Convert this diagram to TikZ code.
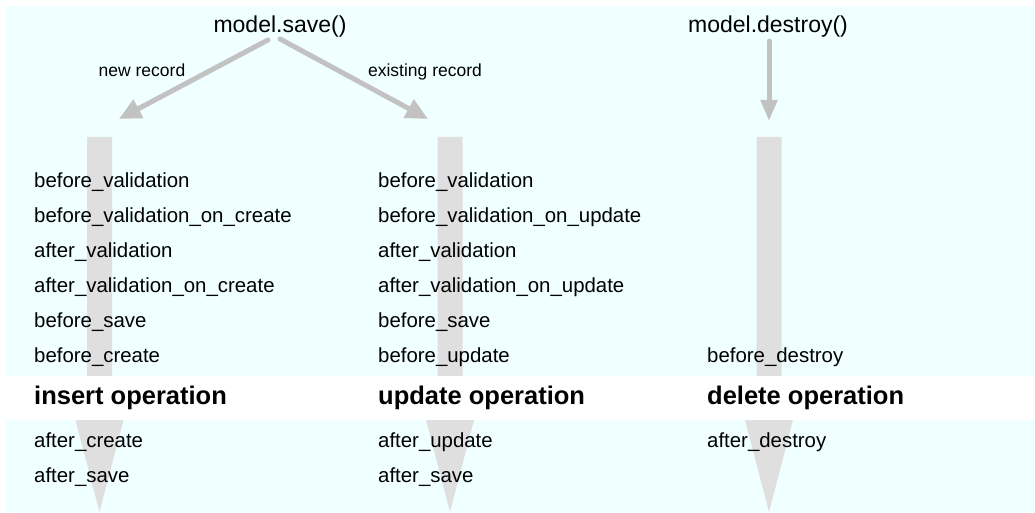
\documentclass[tikz,border=0pt]{standalone}
\usepackage{fontspec}
\setmainfont{Liberation Sans}
\usetikzlibrary{arrows.meta,positioning,calc}
\definecolor{azurebg}{RGB}{240,255,255}
\definecolor{flowgrey}{RGB}{223,223,223}
\definecolor{arrowgrey}{RGB}{194,194,194}

\begin{document}
\begin{tikzpicture}[x=1pt, y=-1pt,
    title/.style={inner sep=0pt, anchor=base, font=\fontsize{23}{27}\selectfont},
    branch/.style={inner sep=0pt, anchor=base, font=\fontsize{17.5}{21}\selectfont},
    hook/.style={inner sep=0pt, anchor=base west, font=\fontsize{20.4}{24}\selectfont},
    operation/.style={inner sep=0pt, anchor=base west, font=\fontsize{25.5}{30}\selectfont\bfseries},
    call/.style={draw=arrowgrey, line width=5pt, line cap=round, -{Triangle[length=22pt, width=20pt]}}]

    \useasboundingbox (0,0) rectangle (1035,513);
    \fill[azurebg] (6,6) rectangle (1035,513);

    % flow bars
    \foreach \c in {99.5,450,769}
        \fill[flowgrey] (\c-12.5,137) -- (\c+12.5,137) -- (\c+12.5,420) -- (\c+24,420)
            -- (\c,512) -- (\c-24,420) -- (\c-12.5,420) -- cycle;

    % operation band
    \fill[white] (0,376) rectangle (1035,420);

    \node[title] (save) at (280,33) {model.save()};
    \node[title] (destroy) at (768,33) {model.destroy()};

    \coordinate (newrec) at (119,119);
    \coordinate (oldrec) at (428,119);
    \coordinate (delrec) at (769,121);

    % save -> insert / update
    \draw[call] ([xshift=-12pt, yshift=-2pt]save.south) -- (newrec);
    \draw[call] ([xshift=0pt, yshift=-1pt]save.south) -- (oldrec);
    \node[branch] (newlbl) at (142,77) {new record};
    \node[branch] (oldlbl) at (425,77) {existing record};

    % destroy -> delete
    \draw[call, -{Triangle[length=21pt, width=16pt]}] ([yshift=-3pt]destroy.south -| delrec) -- (delrec);

    % insert column
    \foreach \txt [count=\i] in {before\_validation, before\_validation\_on\_create, after\_validation,
        after\_validation\_on\_create, before\_save, before\_create}
        \node[hook] (ins\i) at (34, 152+35*\i) {\txt};
    \node[operation] (insop) at (34,404) {insert operation};
    \node[hook] (insa1) at (34,447) {after\_create};
    \node[hook] (insa2) at (34,482) {after\_save};

    % update column
    \foreach \txt [count=\i] in {before\_validation, before\_validation\_on\_update, after\_validation,
        after\_validation\_on\_update, before\_save, before\_update}
        \node[hook] (upd\i) at (378, 152+35*\i) {\txt};
    \node[operation] (updop) at (378,404) {update operation};
    \node[hook] (upda1) at (378,447) {after\_update};
    \node[hook] (upda2) at (378,482) {after\_save};

    % delete column
    \node[hook] (del1) at (707,362) {before\_destroy};
    \node[operation] (delop) at (707,404) {delete operation};
    \node[hook] (dela1) at (707,447) {after\_destroy};
\end{tikzpicture}
\end{document}
